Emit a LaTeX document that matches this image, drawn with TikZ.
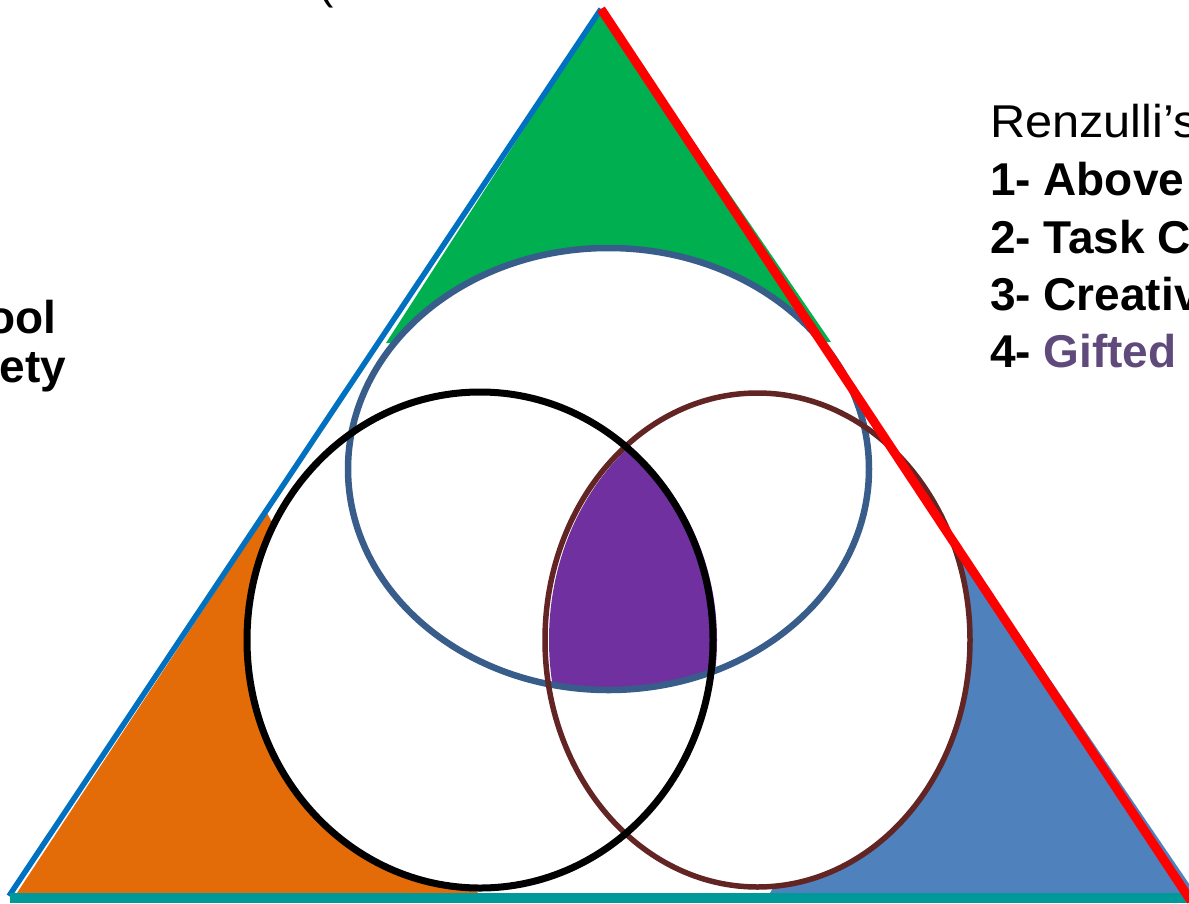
\documentclass[tikz,border=0pt]{standalone}
\usepackage{fontspec}
\setmainfont{Liberation Sans}
\usepackage{xcolor}
\usepackage{tikz}

\definecolor{ringtop}{HTML}{385D8A}
\definecolor{ringbrown}{HTML}{632523}
\definecolor{cornergreen}{HTML}{00B050}
\definecolor{cornerorange}{HTML}{E36C09}
\definecolor{cornerblue}{HTML}{4F81BD}
\definecolor{giftpurple}{HTML}{7030A0}
\definecolor{textpurple}{HTML}{604A7B}
\definecolor{edgeblue}{HTML}{0070C0}
\definecolor{edgeteal}{HTML}{009999}

\begin{document}
\begin{tikzpicture}[
    x=1pt, y=-1pt,
    every node/.style={inner sep=0pt, outer sep=0pt},
    listline/.style={
        anchor=base west,
        font=\fontsize{46}{55}\selectfont\bfseries
    },
    sideline/.style={
        anchor=base east,
        font=\fontsize{46}{55}\selectfont\bfseries
    },
    topring/.style={ringtop, line width=6.5pt},
    leftring/.style={black, line width=7pt},
    rightring/.style={ringbrown, line width=5.5pt}
]
\useasboundingbox (0,0) rectangle (1189,903);
\clip (0,0) rectangle (1189,903);

% Corners of the triangle and ring centres
\coordinate (apex) at (601,9);
\coordinate (leftfoot) at (9,896);
\coordinate (rightfoot) at (1191,901);
\coordinate (baseleft) at (10,898);
\coordinate (baseright) at (1189,898);
\coordinate (topc) at (608.5,469);
\coordinate (blackc) at (480,640);
\coordinate (brownc) at (757.5,640);

% Coloured corners
\fill[cornergreen] (602,8) -- (386,343) -- (831,342) -- cycle;
\fill[cornerorange] (17,893) -- (267,513) -- (478,893) -- cycle;
\fill[cornerblue] (964,553) -- (1198,897) -- (770,893) -- cycle;

% Ring interiors
\fill[white] (topc) ellipse [x radius=260.5, y radius=221];
\fill[white] (blackc) ellipse [x radius=233, y radius=248];
\fill[white] (brownc) ellipse [x radius=212.5, y radius=247];

% Where all three rings meet
\begin{scope}
    \clip (612.5,469) ellipse [x radius=260.5, y radius=221];
    \clip (484,640) ellipse [x radius=233, y radius=248];
    \fill[giftpurple] (761.5,640) ellipse [x radius=212.5, y radius=247];
\end{scope}

% Rings
\draw[topring] (topc) ellipse [x radius=260.5, y radius=221];
\draw[rightring] (brownc) ellipse [x radius=212.5, y radius=247];
\draw[leftring] (blackc) ellipse [x radius=233, y radius=248];

% Triangle sides
\draw[edgeblue, line width=5.5pt] (apex) -- (leftfoot);
\draw[edgeteal, line width=10pt] (baseleft) -- (baseright);
\draw[red, line width=9pt] (apex) -- (rightfoot);

% Texts cut by the frame
\node[anchor=base west, font=\fontsize{46}{55}\selectfont] (paren) at (318,-1.5) {(};
\node[sideline] (oolline) at (56,333) {ool};
\node[sideline] (etyline) at (66,382) {ety};

\node[anchor=base west, font=\fontsize{46}{55}\selectfont]
    (title) at (990,137) {\scalebox{1.06}[1]{Renzulli’s}};
\node[listline] (item1) at (990,195) {1- Above};
\node[listline] (item2) at (990,253) {2- Task C};
\node[listline] (item3) at (990,310) {3- Creativ};
\node[listline] (item4) at (990,367) {4- \textcolor{textpurple}{Gifted}};

\end{tikzpicture}
\end{document}
